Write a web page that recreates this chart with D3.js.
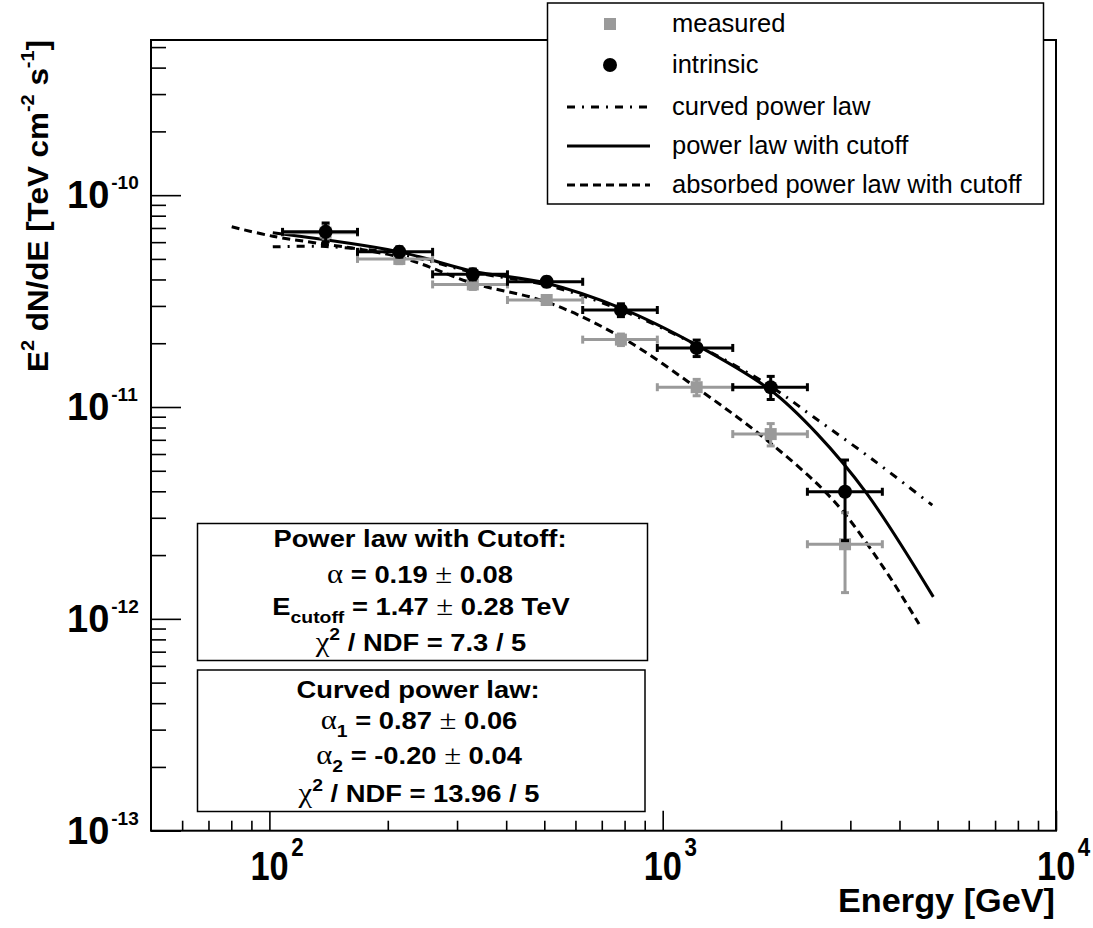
<!DOCTYPE html>
<html><head><meta charset="utf-8">
<script src="https://cdn.jsdelivr.net/npm/d3@7"></script>
<style>body{margin:0;background:#fff} svg{display:block}</style>
</head><body>
<svg id="c" width="1093" height="928"></svg>
<script>
// ---- data (GeV, TeV cm^-2 s^-1) ----
const energy      = [139, 214, 329, 507, 783, 1220, 1882, 2908];
const binLo       = [108, 167.5, 260, 403, 626, 969, 1507, 2333];
const binHi       = [167.5, 260, 403, 626, 969, 1507, 2333, 3618];
const intrinsic    = [6.71e-11, 5.40e-11, 4.23e-11, 3.90e-11, 2.87e-11, 1.90e-11, 1.24e-11, 3.98e-12];
const intrinsicErr = [0.68e-11, 0.30e-11, 0.25e-11, 0.20e-11, 0.20e-11, 0.17e-11, 0.155e-11, 1.64e-12];
const measured     = [6.65e-11, 5.00e-11, 3.79e-11, 3.20e-11, 2.08e-11, 1.24e-11, 7.45e-12, 2.25e-12];
const measuredErr  = [0.55e-11, 0.25e-11, 0.20e-11, 0.15e-11, 0.13e-11, 0.11e-11, 0.90e-12, 0.92e-12];

// model curves: [E, flux]
const curvedPL = [[102,5.70e-11],[139,5.72e-11],[214,5.27e-11],[329,4.33e-11],[507,3.76e-11],[783,2.87e-11],[1220,1.96e-11],[1882,1.25e-11],[2415,8.99e-12],[3431,5.62e-12],[4847,3.44e-12]];
const plCutoff = [[102,6.64e-11],[214,5.40e-11],[329,4.38e-11],[507,3.84e-11],[783,2.93e-11],[1220,1.96e-11],[1882,1.20e-11],[2464,7.51e-12],[3301,3.91e-12],[4876,1.27e-12]];
const absorbedPL = [[80.2,7.09e-11],[102,6.40e-11],[214,5.10e-11],[329,3.84e-11],[507,3.13e-11],[783,2.14e-11],[1244,1.20e-11],[1839,6.98e-12],[2710,3.64e-12],[3632,1.76e-12],[4485,9.45e-13]];

const xMajor = [100, 1000, 10000];
const xMajorExp = ["2", "3", "4"];
const yMajor = [1e-13, 1e-12, 1e-11, 1e-10];
const yMajorExp = ["-13", "-12", "-11", "-10"];

const legendLabels = ["measured", "intrinsic", "curved power law", "power law with cutoff", "absorbed power law with cutoff"];

// ---- setup ----
const svg = d3.select('#c');
const x = d3.scaleLog().domain([50, 10000]).range([151, 1056]);
const y = d3.scaleLog().domain([1e-13, 5.4e-10]).range([830.7, 40]);
const FONT = "'Liberation Sans', Arial, Helvetica, sans-serif";
const SYM = "'Liberation Serif', 'DejaVu Serif', serif";
const GRAY = '#9a9a9a';

// frame
svg.append('rect').attr('x', x.range()[0]).attr('y', y.range()[1])
  .attr('width', x.range()[1]-x.range()[0]).attr('height', y.range()[0]-y.range()[1])
  .attr('fill', 'none').attr('stroke', '#000').attr('stroke-width', 2);

// x ticks
const xMinor = [];
for (let d = 10; d <= 1000; d *= 10) for (let k = 2; k <= 9; k++) { const v = k*d; if (v > 50 && v < 10000) xMinor.push(v); }
const gxMin = svg.append('g').attr('transform', `translate(0,${y.range()[0]})`)
  .call(d3.axisBottom(x).tickValues(xMinor).tickSize(-10).tickFormat(''));
const gxMaj = svg.append('g').attr('transform', `translate(0,${y.range()[0]})`)
  .call(d3.axisBottom(x).tickValues(xMajor).tickSize(-20).tickFormat(''));
// y ticks
const yMinor = [];
for (let d = 1e-13; d < 1e-9; d *= 10) for (let k = 2; k <= 9; k++) { const v = k*d; if (v < 5.4e-10) yMinor.push(v); }
const gyMin = svg.append('g').attr('transform', `translate(${x.range()[0]},0)`)
  .call(d3.axisLeft(y).tickValues(yMinor).tickSize(-15).tickFormat(''));
const gyMaj = svg.append('g').attr('transform', `translate(${x.range()[0]},0)`)
  .call(d3.axisLeft(y).tickValues(yMajor).tickSize(-30).tickFormat(''));
[gxMin, gxMaj, gyMin, gyMaj].forEach(g => {
  g.select('.domain').remove();
  g.selectAll('line').attr('stroke', '#000').attr('stroke-width', 1.6);
});

// tick labels
xMajor.forEach((v, i) => {
  const t = svg.append('text').attr('transform', `translate(${x(v) - 19},880) scale(0.86,1)`)
    .attr('font-family', FONT).attr('font-weight', 'bold').attr('font-size', 40);
  t.append('tspan').text('10');
  t.append('tspan').attr('font-size', 26).attr('dx', 3).attr('dy', -24).text(xMajorExp[i]);
});
yMajor.forEach((v, i) => {
  const t = svg.append('text').attr('x', 67).attr('y', y(v) + 13)
    .attr('font-family', FONT).attr('font-weight', 'bold').attr('font-size', 38);
  t.append('tspan').text('10');
  t.append('tspan').attr('font-size', 19).attr('dx', 2).attr('dy', -19).text(yMajorExp[i]);
});

// axis titles (right-aligned at the axis ends)
svg.append('text').attr('x', 1055).attr('y', 912)
  .attr('font-family', FONT).attr('font-weight', 'bold').attr('font-size', 34)
  .attr('text-anchor', 'end').attr('textLength', 217).attr('lengthAdjust', 'spacingAndGlyphs').text('Energy [GeV]');

const yt = svg.append('text').attr('transform', `translate(48,${y.range()[1]}) rotate(-90)`)
  .attr('font-family', FONT).attr('font-weight', 'bold').attr('font-size', 30)
  .attr('text-anchor', 'end').attr('textLength', 332).attr('lengthAdjust', 'spacingAndGlyphs');
yt.append('tspan').text('E');
yt.append('tspan').attr('font-size', 19).attr('dy', -14).text('2');
yt.append('tspan').attr('dy', 14).text(' dN/dE [TeV cm');
yt.append('tspan').attr('font-size', 19).attr('dy', -14).text('-2');
yt.append('tspan').attr('dy', 14).text(' s');
yt.append('tspan').attr('font-size', 19).attr('dy', -14).text('-1');
yt.append('tspan').attr('dy', 14).text(']');

// ---- curves ----
const line = d3.line().x(d => x(d[0])).y(d => y(d[1])).curve(d3.curveCatmullRom.alpha(0.5));
const curves = svg.append('g').attr('fill', 'none').attr('stroke', '#000').attr('stroke-width', 3);
curves.append('path').attr('d', line(absorbedPL)).attr('stroke-dasharray', '8,5');
curves.append('path').attr('d', line(curvedPL)).attr('stroke-dasharray', '8,7,2,7');
curves.append('path').attr('d', line(plCutoff));

// ---- data points ----
function drawSeries(vals, errs, color, shape) {
  const g = svg.append('g').attr('stroke', color).attr('fill', color).attr('stroke-width', 3);
  const cap = 4;
  vals.forEach((v, i) => {
    const cx = x(energy[i]), cy = y(v);
    const x0 = x(binLo[i]), x1 = x(binHi[i]);
    const y0 = y(v + errs[i]), y1 = y(v - errs[i]);
    g.append('line').attr('x1', x0).attr('x2', x1).attr('y1', cy).attr('y2', cy);
    g.append('line').attr('x1', x0).attr('x2', x0).attr('y1', cy-cap).attr('y2', cy+cap);
    g.append('line').attr('x1', x1).attr('x2', x1).attr('y1', cy-cap).attr('y2', cy+cap);
    g.append('line').attr('x1', cx).attr('x2', cx).attr('y1', y0).attr('y2', y1);
    g.append('line').attr('x1', cx-cap).attr('x2', cx+cap).attr('y1', y0).attr('y2', y0);
    g.append('line').attr('x1', cx-cap).attr('x2', cx+cap).attr('y1', y1).attr('y2', y1);
    if (shape === 'square') g.append('rect').attr('x', cx-6).attr('y', cy-6).attr('width', 12).attr('height', 12).attr('stroke', 'none');
    else g.append('circle').attr('cx', cx).attr('cy', cy).attr('r', 7).attr('stroke', 'none');
  });
}
drawSeries(measured, measuredErr, GRAY, 'square');
drawSeries(intrinsic, intrinsicErr, '#000', 'circle');

// ---- legend ----
const lg = svg.append('g');
lg.append('rect').attr('x', 547.5).attr('y', 3).attr('width', 496).attr('height', 201)
  .attr('fill', '#fff').attr('stroke', '#000').attr('stroke-width', 1.5);
const rowY = [24, 65, 107, 146, 185];
lg.append('rect').attr('x', 604).attr('y', rowY[0]-6).attr('width', 12).attr('height', 12).attr('fill', GRAY);
lg.append('circle').attr('cx', 610).attr('cy', rowY[1]).attr('r', 7).attr('fill', '#000');
[['8,7,2,7'], ['none'], ['8,5']].forEach((d, i) => {
  lg.append('line').attr('x1', 567).attr('x2', 650).attr('y1', rowY[i+2]).attr('y2', rowY[i+2])
    .attr('stroke', '#000').attr('stroke-width', 3).attr('stroke-dasharray', d[0]);
});
legendLabels.forEach((t, i) => {
  lg.append('text').attr('x', 672).attr('y', rowY[i] + 8)
    .attr('font-family', FONT).attr('font-size', 25.5).text(t);
});

// ---- info boxes ----
function rich(g, cx, cy, segs) {
  const t = g.append('text').attr('transform', `translate(${cx},${cy}) scale(1.14,1)`).attr('text-anchor', 'middle')
    .attr('font-family', FONT).attr('font-weight', 'bold').attr('font-size', 24);
  segs.forEach(s => {
    const sp = t.append('tspan').text(s.t);
    if (s.sym) sp.attr('font-family', SYM).attr('font-weight', 'normal').attr('font-size', 27);
    if (s.sub) sp.attr('font-size', 17).attr('baseline-shift', -8);
    if (s.sup) sp.attr('font-size', 17).attr('baseline-shift', 11);
  });
}
const bx = svg.append('g');
bx.append('rect').attr('x', 197.5).attr('y', 523.5).attr('width', 450).attr('height', 137)
  .attr('fill', '#fff').attr('stroke', '#000').attr('stroke-width', 1.5);
bx.append('rect').attr('x', 197.5).attr('y', 670).attr('width', 447.5).attr('height', 141.5)
  .attr('fill', '#fff').attr('stroke', '#000').attr('stroke-width', 1.5);
rich(bx, 420, 547, [{t: 'Power law with Cutoff:'}]);
rich(bx, 420, 583, [{t: 'α', sym: 1}, {t: ' = 0.19 '}, {t: '±', sym: 1}, {t: ' 0.08'}]);
rich(bx, 421, 615, [{t: 'E'}, {t: 'cutoff', sub: 1}, {t: ' = 1.47 '}, {t: '±', sym: 1}, {t: ' 0.28 TeV'}]);
rich(bx, 421, 651, [{t: 'χ', sym: 1}, {t: '2', sup: 1}, {t: ' / NDF = 7.3 / 5'}]);
rich(bx, 418, 698, [{t: 'Curved power law:'}]);
rich(bx, 419, 729, [{t: 'α', sym: 1}, {t: '1', sub: 1}, {t: ' = 0.87 '}, {t: '±', sym: 1}, {t: ' 0.06'}]);
rich(bx, 419, 764, [{t: 'α', sym: 1}, {t: '2', sub: 1}, {t: ' = -0.20 '}, {t: '±', sym: 1}, {t: ' 0.04'}]);
rich(bx, 419, 802, [{t: 'χ', sym: 1}, {t: '2', sup: 1}, {t: ' / NDF = 13.96 / 5'}]);
</script>
</body></html>
